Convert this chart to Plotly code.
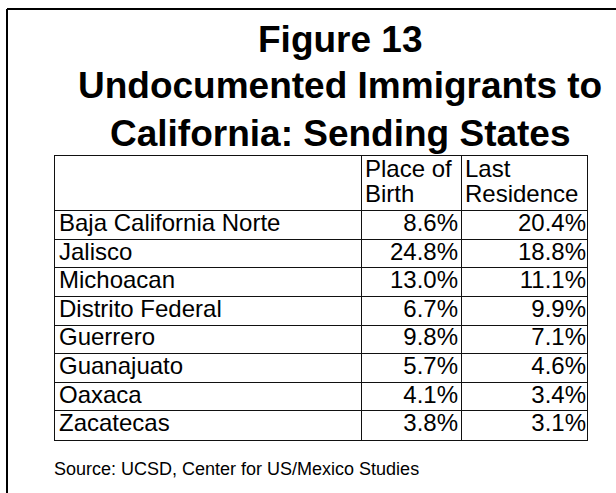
import plotly.graph_objects as go

W, H = 616, 493

states = ["Baja California Norte", "Jalisco", "Michoacan", "Distrito Federal",
          "Guerrero", "Guanajuato", "Oaxaca", "Zacatecas"]
place_of_birth = [8.6, 24.8, 13.0, 6.7, 9.8, 5.7, 4.1, 3.8]
last_residence = [20.4, 18.8, 11.1, 9.9, 7.1, 4.6, 3.4, 3.1]
header_line1 = ["Place of", "Last"]
header_line2 = ["Birth", "Residence"]
title_lines = ["Figure 13", "Undocumented Immigrants to", "California: Sending States"]
source_text = "Source: UCSD, Center for US/Mexico Studies"

FONT = "Arial, Liberation Sans, Helvetica, sans-serif"

# ---- layout geometry (pixels) ----
TABLE_L, TABLE_R = 55, 587
TABLE_T, TABLE_B = 156, 439.5
ROW_H = 28.6
HEADER_H = 54.7
COL_W = [306, 100, 126]          # widths of the three columns
col_edges = [sum(COL_W[:i + 1]) for i in range(len(COL_W))]  # 306, 406, 532

n = len(states)
header_units = HEADER_H / ROW_H
y_top = -0.5 - header_units      # top of header in row units
y_bot = n - 0.5


def px_x(x):
    return x / W


def px_y(y):
    return 1 - y / H


def rows_from_px(ypx):
    return (ypx - TABLE_T) / ROW_H + y_top


fig = go.Figure()

TXT = dict(family=FONT, size=24, color="black")

# state names (first column)
fig.add_trace(go.Scatter(
    x=[4] * n, y=list(range(n)), text=states, mode="text",
    textposition="middle right", textfont=TXT, hoverinfo="skip",
))
# Place of birth values
fig.add_trace(go.Scatter(
    x=[col_edges[1] - 3] * n, y=list(range(n)),
    text=[f"{v:.1f}%" for v in place_of_birth], mode="text",
    textposition="middle left", textfont=TXT, hoverinfo="skip",
))
# Last residence values
fig.add_trace(go.Scatter(
    x=[col_edges[2] - 1] * n, y=list(range(n)),
    text=[f"{v:.1f}%" for v in last_residence], mode="text",
    textposition="middle left", textfont=TXT, hoverinfo="skip",
))
# header text
hx = [col_edges[0] + 4, col_edges[1] + 4]
fig.add_trace(go.Scatter(
    x=hx, y=[rows_from_px(171)] * 2, text=header_line1, mode="text",
    textposition="middle right", textfont=TXT, hoverinfo="skip",
))
fig.add_trace(go.Scatter(
    x=hx, y=[rows_from_px(195.5)] * 2, text=header_line2, mode="text",
    textposition="middle right", textfont=TXT, hoverinfo="skip",
))

fig.update_xaxes(
    domain=[px_x(TABLE_L), px_x(TABLE_R)], range=[0, col_edges[-1]],
    showgrid=True, gridcolor="#111111", gridwidth=1.2,
    tickvals=col_edges[:-1], showticklabels=False, ticks="",
    showline=True, mirror=True, linecolor="#111111", linewidth=1.2,
    zeroline=False, fixedrange=True,
)
fig.update_yaxes(
    domain=[px_y(TABLE_B), px_y(TABLE_T)], range=[y_bot, y_top],
    showgrid=True, gridcolor="#111111", gridwidth=1.2,
    tickvals=[i - 0.5 for i in range(n)], showticklabels=False, ticks="",
    showline=True, mirror=True, linecolor="#111111", linewidth=1.2,
    zeroline=False, fixedrange=True,
)

# title
title_centers = [39, 86, 134]
for txt, yy in zip(title_lines, title_centers):
    fig.add_annotation(
        text=f"<b>{txt}</b>", x=px_x(340), y=px_y(yy), xref="paper", yref="paper",
        xanchor="center", yanchor="middle", showarrow=False,
        font=dict(family=FONT, size=37, color="black"),
    )

fig.add_annotation(
    text=source_text, x=px_x(52), y=px_y(469), xref="paper", yref="paper",
    xanchor="left", yanchor="middle", showarrow=False,
    font=dict(family=FONT, size=18, color="black"),
)

# outer frame (only left and top edges fall inside the picture)
fig.add_shape(type="line", xref="paper", yref="paper",
              x0=px_x(7), x1=px_x(7), y0=px_y(9), y1=-0.1,
              line=dict(color="black", width=2))
fig.add_shape(type="line", xref="paper", yref="paper",
              x0=px_x(7), x1=1.1, y0=px_y(9), y1=px_y(9),
              line=dict(color="black", width=2))

fig.update_layout(
    width=W, height=H,
    margin=dict(l=0, r=0, t=0, b=0),
    paper_bgcolor="white", plot_bgcolor="white",
    showlegend=False,
)

fig.write_html(
    "out.html",
    config={"displayModeBar": False},
    post_script="document.body.style.margin='0';document.body.style.overflow='hidden';",
)
